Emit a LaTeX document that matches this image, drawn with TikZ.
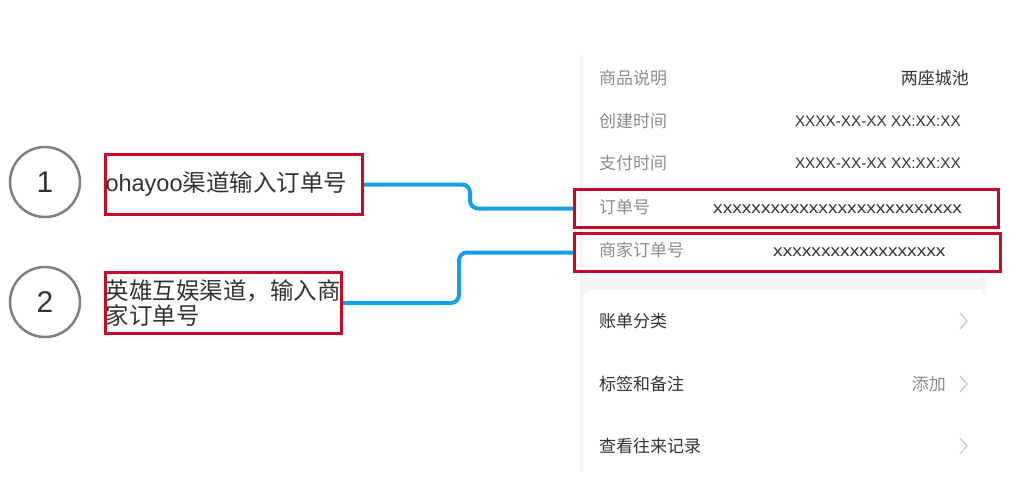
\documentclass[tikz,border=0pt]{standalone}
\usepackage{fontspec}
\usepackage{graphicx}
\setmainfont{Liberation Sans}
\newfontfamily\cjk{Noto Sans CJK SC}
\definecolor{redbox}{RGB}{200,10,40}
\definecolor{bluecon}{RGB}{20,160,225}
\definecolor{circgray}{RGB}{128,128,128}
\definecolor{labgray}{RGB}{140,140,140}
\definecolor{valdark}{RGB}{51,51,51}
\definecolor{panelbg}{RGB}{245,245,245}
\definecolor{chevgray}{RGB}{200,200,200}
\tikzset{
  numcirc/.style={circle, draw=circgray, line width=2.5pt, minimum size=70pt, inner sep=0pt, text=black!80, font=\fontsize{30}{30}\selectfont},
  notebox/.style={draw=redbox, line width=3pt, anchor=north west, inner xsep=0pt, inner ysep=0pt, align=left, text=valdark, font=\fontsize{23.5}{25}\selectfont},
  hlbox/.style={draw=redbox, line width=3pt, anchor=north west, inner sep=0pt},
  conn/.style={draw=bluecon, line width=4pt, rounded corners=8pt},
  lab/.style={anchor=west, inner sep=0pt, text=labgray, font=\cjk\fontsize{17}{17}\selectfont},
  val/.style={inner sep=0pt, text=valdark},
  chev/.style={draw=chevgray, line width=1.2pt}
}
\begin{document}
\begin{tikzpicture}[x=1pt,y=-1pt]
\useasboundingbox (0,0) rectangle (1011,485);
% panel
\fill[panelbg] (580,55) rectangle (986,472);
\fill[white] (583,55) [rounded corners=9pt] -- (583,279) -- (986,279) [sharp corners] -- (986,55) -- cycle;
\fill[white] (583,472) [rounded corners=9pt] -- (583,290) -- (986,290) [sharp corners] -- (986,472) -- cycle;
% panel rows
\node[lab] (l1) at (599,78) {商品说明};
\node[val, anchor=east, font=\cjk\fontsize{17}{17}\selectfont] (v1) at (969,78) {两座城池};
\node[lab] (l2) at (599,121) {创建时间};
\node[val, anchor=east, font=\fontsize{15.3}{15.3}\selectfont] (v2) at (961,121) {XXXX-XX-XX XX:XX:XX};
\node[lab] (l3) at (599,163) {支付时间};
\node[val, anchor=east, font=\fontsize{15.3}{15.3}\selectfont] (v3) at (961,163) {XXXX-XX-XX XX:XX:XX};
\node[lab] (l4) at (599,207) {订单号};
\node[val, anchor=west, font=\fontsize{16.5}{16.5}\selectfont] (v4) at (713,209) {\scalebox{1.16}[1]{xxxxxxxxxxxxxxxxxxxxxxxxxx}};
\node[lab] (l5) at (599,250) {商家订单号};
\node[val, anchor=west, font=\fontsize{16.5}{16.5}\selectfont] (v5) at (773,252) {\scalebox{1.16}[1]{xxxxxxxxxxxxxxxxxx}};
\node[lab, text=valdark] (l6) at (599,321) {账单分类};
\node[lab, text=valdark] (l7) at (599,384) {标签和备注};
\node[val, anchor=east, text=labgray, font=\cjk\fontsize{17}{17}\selectfont] (v7) at (946,384) {添加};
\node[lab, text=valdark] (l8) at (599,446) {查看往来记录};
\draw[chev] (960,313) -- (967,321) -- (960,329);
\draw[chev] (960,376) -- (967,384) -- (960,392);
\draw[chev] (960,438) -- (967,446) -- (960,454);
% highlight boxes
\node[hlbox, minimum width=424pt, minimum height=38pt] (r1) at (573,188) {};
\node[hlbox, minimum width=426pt, minimum height=38pt] (r2) at (573,232) {};
% numbered circles
\node[numcirc] (c1) at (45,182) {1};
\node[numcirc] (c2) at (45,302) {2};
% note boxes
\node[notebox, minimum width=257pt, minimum height=60pt, text width=257pt] (b1) at (104,153) {ohayoo{\cjk 渠道输入订单号}};
\node[notebox, minimum width=236pt, minimum height=61pt, text width=236pt] (b2) at (104,271) {\cjk 英雄互娱渠道，输入商\\家订单号\\[-2pt]};
% connectors
\draw[conn] (b1.east) -- ++(106,0) |- (r1.west);
\draw[conn] (b2.east) -- ++(116,0) |- (r2.west);
\end{tikzpicture}
\end{document}
